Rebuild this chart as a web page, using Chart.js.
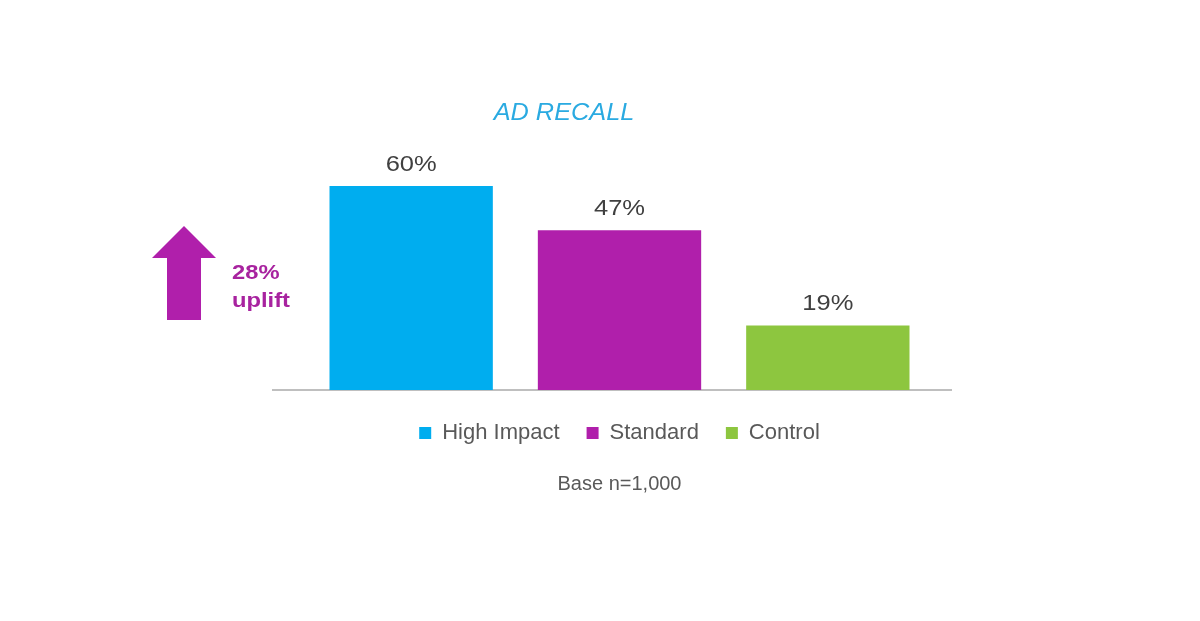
<!DOCTYPE html>
<html>
<head>
<meta charset="utf-8">
<title>Ad Recall</title>
<script src="https://cdn.jsdelivr.net/npm/chart.js@4.4.1/dist/chart.umd.min.js"></script>
<style>
  html, body { margin: 0; padding: 0; background: #ffffff; }
  canvas { display: block; }
</style>
</head>
<body>
<canvas id="recallChart" width="1200" height="621"></canvas>
<script>
// chart data
const categories = ["High Impact", "Standard", "Control"];
const recallValues = [60, 47, 19];
const barColors = ["#00adef", "#b01fab", "#8dc63f"];
const yTicks = [0, 70];
const upliftLabel = ["28%", "uplift"];

const FONT = "'Liberation Sans', Arial, sans-serif";

// text in the source is a bit wider than Arial, so stretch it a little
function wideText(c, text, x, y, sx) {
  c.save();
  c.translate(x, y);
  c.scale(sx, 1);
  c.fillText(text, 0, 0);
  c.restore();
}

// baseline, value labels, title and uplift arrow
const extrasPlugin = {
  id: "extras",
  beforeDatasetsDraw(chart) {
    const c = chart.ctx;
    const area = chart.chartArea;
    c.save();
    c.strokeStyle = "#bfbfbf";
    c.lineWidth = 2;
    c.beginPath();
    c.moveTo(area.left - 35, area.bottom);
    c.lineTo(area.right + 20, area.bottom);
    c.stroke();
    c.restore();
  },
  afterDatasetsDraw(chart) {
    const c = chart.ctx;
    const meta = chart.getDatasetMeta(0);
    c.save();
    c.fillStyle = "#404040";
    c.font = "22px " + FONT;
    c.textAlign = "center";
    c.textBaseline = "alphabetic";
    meta.data.forEach((bar, i) => {
      wideText(c, recallValues[i] + "%", bar.x, bar.y - 15, 1.16);
    });

    // title
    c.fillStyle = "#2aaae1";
    c.font = "italic 23px " + FONT;
    wideText(c, "AD RECALL", 564, 120, 1.1);

    // uplift arrow
    c.fillStyle = "#b01fab";
    c.beginPath();
    c.moveTo(184, 226);
    c.lineTo(216, 258);
    c.lineTo(201, 258);
    c.lineTo(201, 320);
    c.lineTo(167, 320);
    c.lineTo(167, 258);
    c.lineTo(152, 258);
    c.closePath();
    c.fill();

    c.fillStyle = "#a8239f";
    c.font = "bold 21px " + FONT;
    c.textAlign = "left";
    wideText(c, upliftLabel[0], 232, 279, 1.13);
    wideText(c, upliftLabel[1], 232, 307, 1.13);
    c.restore();
  }
};

new Chart(document.getElementById("recallChart"), {
  type: "bar",
  data: {
    labels: categories,
    datasets: [{
      data: recallValues,
      backgroundColor: barColors,
      borderWidth: 0,
      categoryPercentage: 1,
      barPercentage: 0.784
    }]
  },
  options: {
    responsive: false,
    animation: false,
    layout: {
      padding: { left: 307, right: 268, top: 152, bottom: 125 }
    },
    scales: {
      x: {
        display: true,
        grid: { display: false },
        border: { display: false },
        ticks: { display: false },
        afterFit: (scale) => { scale.height = 5; }
      },
      y: { display: false, min: yTicks[0], max: yTicks[1] }
    },
    plugins: {
      tooltip: { enabled: false },
      legend: {
        position: "bottom",
        labels: {
          color: "#595959",
          font: { family: FONT, size: 22 },
          boxWidth: 12,
          boxHeight: 12,
          padding: 27,
          generateLabels: (chart) => categories.map((name, i) => ({
            text: name,
            fillStyle: barColors[i],
            strokeStyle: barColors[i],
            fontColor: "#595959",
            lineWidth: 0,
            index: i
          }))
        }
      },
      subtitle: {
        display: true,
        position: "bottom",
        text: "Base n=1,000",
        color: "#595959",
        font: { family: FONT, size: 20, weight: "normal" },
        padding: { top: 18, bottom: 0 }
      }
    }
  },
  plugins: [extrasPlugin]
});
</script>
</body>
</html>
